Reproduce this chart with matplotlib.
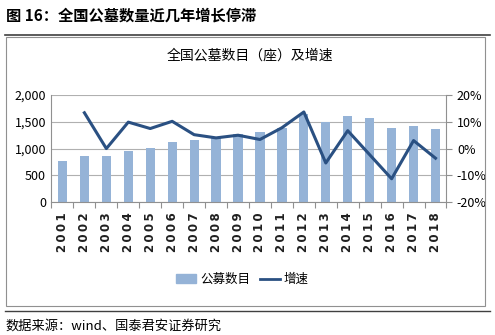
import matplotlib.pyplot as plt
from matplotlib.patches import Rectangle
from matplotlib.lines import Line2D
import numpy as np

plt.rcParams['font.family'] = ['Noto Sans CJK SC', 'DejaVu Sans']

years = ['2001', '2002', '2003', '2004', '2005', '2006', '2007', '2008', '2009',
         '2010', '2011', '2012', '2013', '2014', '2015', '2016', '2017', '2018']
cemeteries = [770, 860, 860, 950, 1010, 1115, 1160, 1210, 1270,
              1315, 1390, 1645, 1500, 1610, 1575, 1390, 1420, 1370]
growth = [np.nan, 13.4, 0.0, 9.9, 7.5, 10.2, 5.2, 4.0, 5.0,
          3.4, 7.8, 13.7, -5.4, 6.7, -2.3, -11.3, 3.0, -3.6]

bar_color = '#95B3D7'
line_color = '#2A5082'
grid_color = '#B0B0B0'

fig = plt.figure(figsize=(4.95, 3.35), dpi=100)

# heading, rules and frame
fig.text(0.012, 0.955, '图 16：全国公墓数量近几年增长停滞', fontsize=11, fontweight='bold',
         ha='left', va='center')
fig.add_artist(Line2D([0.01, 0.99], [0.897, 0.897], color='#404040', lw=1.2))
fig.add_artist(Rectangle((0.012, 0.087), 0.968, 0.802, fill=False, ec='#909090', lw=0.8))
fig.add_artist(Line2D([0.01, 0.99], [0.073, 0.073], color='#404040', lw=1.0))
fig.text(0.012, 0.027, '数据来源：wind、国泰君安证券研究', fontsize=9.5, ha='left', va='center')

ax = fig.add_axes([0.104, 0.397, 0.798, 0.319])
x = np.arange(len(years))
ax.bar(x, cemeteries, width=0.42, color=bar_color, zorder=2, label='公募数目')
ax.set_ylim(0, 2000)
ax.set_yticks([0, 500, 1000, 1500, 2000])
ax.set_yticklabels(['0', '500', '1,000', '1,500', '2,000'])
ax.set_xlim(-0.5, len(years) - 0.5)
ax.set_xticks(np.arange(-0.5, len(years), 1.0))
ax.set_xticklabels([])
ax.tick_params(axis='x', length=4, color='#909090')
ax.tick_params(axis='y', length=0, labelsize=9, pad=4)
# spaced-out year labels, read bottom to top
for i, yr in enumerate(years):
    ax.text(i, -0.1, '\u2009'.join(yr), transform=ax.get_xaxis_transform(), rotation=90,
            ha='center', va='top', fontsize=8.5, family='DejaVu Sans', fontweight='bold',
            color='#202020')
ax.grid(axis='y', color=grid_color, lw=0.8, zorder=0)
for s in ['top', 'right']:
    ax.spines[s].set_visible(False)
ax.spines['left'].set_color('#909090')
ax.spines['bottom'].set_color('#909090')

ax2 = ax.twinx()
ax2.plot(x, growth, color=line_color, lw=2.2, zorder=3, label='增速')
ax2.set_ylim(-20, 20)
ax2.set_yticks([-20, -10, 0, 10, 20])
ax2.set_yticklabels(['-20%', '-10%', '0%', '10%', '20%'])
ax2.tick_params(axis='y', length=4, color='#909090', labelsize=9)
for s in ['top', 'left', 'bottom']:
    ax2.spines[s].set_visible(False)
ax2.spines['right'].set_color('#909090')

fig.text(0.505, 0.835, '全国公墓数目（座）及增速', fontsize=10, ha='center', va='center')

handles = [Rectangle((0, 0), 1, 1, color=bar_color),
           Line2D([0], [0], color=line_color, lw=2)]
fig.legend(handles, ['公募数目', '增速'], loc='center', bbox_to_anchor=(0.49, 0.165),
           ncol=2, frameon=False, fontsize=9, handlelength=1.6, handletextpad=0.3,
           columnspacing=0.8)

fig.savefig('out.png', dpi=100)
